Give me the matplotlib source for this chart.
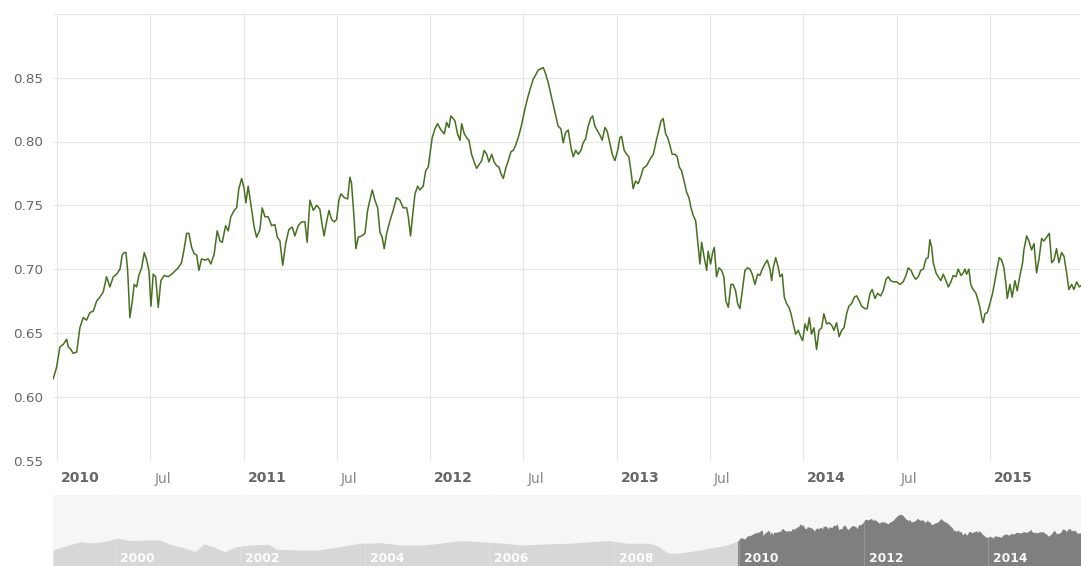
import numpy as np
import matplotlib
matplotlib.use("Agg")
import matplotlib.pyplot as plt
from matplotlib import transforms

# ------------------------------------------------------------
# data
# time as decimal years, values as exchange rate
# ------------------------------------------------------------
t_main = np.array([
    2009.980, 2009.998, 2010.016, 2010.034, 2010.052, 2010.061, 2010.075, 2010.087, 2010.106, 2010.123,
    2010.141, 2010.159, 2010.177, 2010.195, 2010.213, 2010.230, 2010.248, 2010.266, 2010.284, 2010.302,
    2010.320, 2010.338, 2010.350, 2010.361, 2010.370, 2010.379, 2010.391, 2010.404, 2010.414, 2010.427,
    2010.439, 2010.454, 2010.468, 2010.481, 2010.493, 2010.504, 2010.516, 2010.529, 2010.543, 2010.557,
    2010.575, 2010.596, 2010.615, 2010.636, 2010.650, 2010.668, 2010.682, 2010.695, 2010.707, 2010.722,
    2010.736, 2010.749, 2010.761, 2010.775, 2010.793, 2010.811, 2010.825, 2010.843, 2010.859, 2010.874,
    2010.886, 2010.904, 2010.918, 2010.932, 2010.950, 2010.963, 2010.975, 2010.990, 2011.002, 2011.013,
    2011.025, 2011.043, 2011.057,
    2011.070, 2011.088, 2011.100, 2011.115, 2011.132, 2011.151, 2011.168, 2011.181, 2011.195, 2011.210,
    2011.226, 2011.243, 2011.261, 2011.275, 2011.293, 2011.311, 2011.329, 2011.341, 2011.356, 2011.374,
    2011.392, 2011.409, 2011.422, 2011.432, 2011.445, 2011.458, 2011.472, 2011.486, 2011.499, 2011.511,
    2011.522, 2011.540, 2011.558, 2011.570, 2011.579, 2011.592, 2011.602, 2011.615, 2011.633, 2011.651,
    2011.665, 2011.677, 2011.690, 2011.704, 2011.719, 2011.731, 2011.743, 2011.754, 2011.767, 2011.785,
    2011.802, 2011.820, 2011.838, 2011.856, 2011.874, 2011.883, 2011.895, 2011.909, 2011.919, 2011.933,
    2011.945, 2011.963, 2011.976, 2011.990, 2011.999, 2012.011, 2012.026, 2012.040, 2012.058, 2012.076,
    2012.088, 2012.101, 2012.111, 2012.124,
    2012.133, 2012.147, 2012.160, 2012.169, 2012.183, 2012.196, 2012.208, 2012.222, 2012.236, 2012.249,
    2012.263, 2012.276, 2012.290, 2012.303, 2012.315, 2012.330, 2012.343, 2012.356, 2012.369, 2012.379,
    2012.392, 2012.405, 2012.419, 2012.433, 2012.445, 2012.458, 2012.472, 2012.487, 2012.499, 2012.512,
    2012.526, 2012.540, 2012.553, 2012.565, 2012.579, 2012.594, 2012.606, 2012.619, 2012.633, 2012.647,
    2012.660, 2012.673, 2012.686, 2012.701, 2012.713, 2012.726, 2012.740, 2012.755, 2012.767, 2012.780,
    2012.794, 2012.808, 2012.820, 2012.833, 2012.847, 2012.860, 2012.871, 2012.883, 2012.898, 2012.910,
    2012.922, 2012.937, 2012.949, 2012.964, 2012.976, 2012.990, 2013.005, 2013.017, 2013.026, 2013.040,
    2013.053, 2013.065, 2013.076, 2013.088, 2013.101, 2013.115, 2013.130, 2013.142, 2013.160, 2013.178,
    2013.196,
    2013.214, 2013.226, 2013.237, 2013.249, 2013.262, 2013.273, 2013.285, 2013.297, 2013.312, 2013.324,
    2013.335, 2013.348, 2013.362, 2013.375, 2013.387, 2013.398, 2013.410, 2013.423, 2013.434, 2013.446,
    2013.455, 2013.469, 2013.482, 2013.490, 2013.503, 2013.514, 2013.523, 2013.535, 2013.548, 2013.562,
    2013.574, 2013.585, 2013.598, 2013.612, 2013.624, 2013.637, 2013.648, 2013.660, 2013.673, 2013.687,
    2013.701, 2013.714, 2013.726, 2013.741, 2013.755, 2013.767, 2013.780, 2013.794, 2013.807, 2013.821,
    2013.830, 2013.839, 2013.852, 2013.866, 2013.875, 2013.887, 2013.898, 2013.910, 2013.923, 2013.934,
    2013.946, 2013.959, 2013.973, 2013.986, 2013.996, 2014.009, 2014.021, 2014.032, 2014.044, 2014.057,
    2014.071, 2014.084, 2014.098, 2014.110, 2014.125, 2014.137, 2014.152, 2014.164, 2014.178, 2014.192,
    2014.205, 2014.218, 2014.232, 2014.244, 2014.259, 2014.273,
    2014.286, 2014.300, 2014.312, 2014.330, 2014.342, 2014.357, 2014.369, 2014.384, 2014.398, 2014.414,
    2014.428, 2014.443, 2014.455, 2014.468, 2014.482, 2014.500, 2014.518, 2014.535, 2014.550, 2014.562,
    2014.577, 2014.589, 2014.602, 2014.616, 2014.629, 2014.643, 2014.657, 2014.669, 2014.678, 2014.688,
    2014.696, 2014.711, 2014.723, 2014.737, 2014.750, 2014.764, 2014.777, 2014.791, 2014.803, 2014.818,
    2014.830, 2014.845, 2014.857, 2014.866, 2014.875, 2014.887, 2014.897, 2014.910, 2014.925, 2014.937,
    2014.946, 2014.957, 2014.964, 2014.973, 2014.986, 2015.000, 2015.014, 2015.027, 2015.039, 2015.050,
    2015.063, 2015.075, 2015.086, 2015.093, 2015.107, 2015.119, 2015.134, 2015.146, 2015.161, 2015.175,
    2015.182, 2015.197, 2015.209, 2015.223, 2015.236, 2015.250, 2015.263, 2015.277, 2015.289, 2015.304,
    2015.318, 2015.331, 2015.343, 2015.357, 2015.370, 2015.384, 2015.397, 2015.411, 2015.423, 2015.438,
    2015.450, 2015.465, 2015.479, 2015.488,
])

v_main = np.array([
    0.614, 0.623, 0.639, 0.641, 0.645, 0.639, 0.637, 0.634, 0.635, 0.654,
    0.662, 0.660, 0.666, 0.667, 0.675, 0.678, 0.682, 0.694, 0.686, 0.694,
    0.696, 0.700, 0.711, 0.713, 0.713, 0.699, 0.662, 0.675, 0.688, 0.686,
    0.695, 0.701, 0.713, 0.707, 0.699, 0.671, 0.696, 0.694, 0.670, 0.691,
    0.695, 0.694, 0.696, 0.699, 0.701, 0.705, 0.716, 0.728, 0.728, 0.717,
    0.712, 0.711, 0.699, 0.708, 0.707, 0.708, 0.704, 0.712, 0.730, 0.722,
    0.721, 0.734, 0.730, 0.741, 0.746, 0.748, 0.763, 0.771, 0.764, 0.752,
    0.765, 0.747, 0.733,
    0.725, 0.731, 0.748, 0.741, 0.741, 0.734, 0.735, 0.725, 0.722, 0.703,
    0.720, 0.731, 0.733, 0.726, 0.734, 0.737, 0.737, 0.721, 0.754, 0.746,
    0.750, 0.747, 0.734, 0.726, 0.737, 0.746, 0.739, 0.737, 0.739, 0.754,
    0.759, 0.756, 0.755, 0.772, 0.767, 0.741, 0.716, 0.725, 0.726, 0.728,
    0.746, 0.754, 0.762, 0.754, 0.748, 0.729, 0.725, 0.716, 0.728, 0.738,
    0.746, 0.756, 0.754, 0.748, 0.748, 0.741, 0.726, 0.746, 0.759, 0.765,
    0.762, 0.765, 0.777, 0.780, 0.790, 0.803, 0.810, 0.814, 0.809, 0.806,
    0.815, 0.811, 0.820, 0.818,
    0.816, 0.806, 0.801, 0.814, 0.806, 0.803, 0.801, 0.790, 0.784, 0.779,
    0.782, 0.785, 0.793, 0.790, 0.784, 0.790, 0.784, 0.781, 0.780, 0.775,
    0.771, 0.779, 0.785, 0.792, 0.793, 0.797, 0.803, 0.811, 0.819, 0.828,
    0.836, 0.843, 0.849, 0.852, 0.856, 0.857, 0.858, 0.853, 0.846, 0.837,
    0.829, 0.820, 0.812, 0.810, 0.799, 0.807, 0.809, 0.795, 0.788, 0.793,
    0.790, 0.793, 0.799, 0.802, 0.812, 0.818, 0.820, 0.812, 0.808, 0.805,
    0.801, 0.811, 0.808, 0.798, 0.790, 0.785, 0.793, 0.803, 0.804, 0.793,
    0.790, 0.788, 0.777, 0.763, 0.769, 0.767, 0.773, 0.779, 0.781, 0.786,
    0.790,
    0.802, 0.809, 0.816, 0.818, 0.806, 0.803, 0.797, 0.790, 0.790, 0.788,
    0.780, 0.777, 0.768, 0.760, 0.756, 0.748, 0.742, 0.738, 0.722, 0.704,
    0.721, 0.709, 0.699, 0.714, 0.704, 0.713, 0.717, 0.694, 0.701, 0.699,
    0.694, 0.675, 0.670, 0.688, 0.688, 0.683, 0.673, 0.669, 0.683, 0.699,
    0.701, 0.700, 0.696, 0.688, 0.696, 0.695, 0.700, 0.704, 0.707, 0.700,
    0.691, 0.701, 0.709, 0.701, 0.694, 0.696, 0.678, 0.673, 0.670, 0.665,
    0.657, 0.649, 0.652, 0.647, 0.644, 0.657, 0.652, 0.662, 0.649, 0.654,
    0.637, 0.652, 0.654, 0.665, 0.657, 0.658, 0.656, 0.652, 0.658, 0.647,
    0.652, 0.654, 0.665, 0.671, 0.673, 0.678,
    0.679, 0.675, 0.671, 0.669, 0.669, 0.681, 0.684, 0.677, 0.681, 0.679,
    0.683, 0.692, 0.694, 0.691, 0.690, 0.690, 0.688, 0.690, 0.695, 0.701,
    0.699, 0.695, 0.692, 0.694, 0.699, 0.700, 0.708, 0.709, 0.723, 0.717,
    0.705, 0.697, 0.694, 0.691, 0.696, 0.691, 0.686, 0.690, 0.695, 0.694,
    0.700, 0.695, 0.697, 0.700, 0.696, 0.700, 0.688, 0.684, 0.681, 0.675,
    0.670, 0.661, 0.658, 0.665, 0.666, 0.673, 0.681, 0.691, 0.701, 0.709,
    0.707, 0.701, 0.688, 0.677, 0.688, 0.678, 0.691, 0.683, 0.695, 0.705,
    0.715, 0.726, 0.722, 0.715, 0.720, 0.697, 0.708, 0.724, 0.722, 0.725,
    0.728, 0.705, 0.707, 0.716, 0.705, 0.713, 0.710, 0.697, 0.684, 0.688,
    0.684, 0.690, 0.686, 0.687,
])

# longer history shown only in the navigator strip
t_hist = np.array([
    1999.000, 1999.160, 1999.449, 1999.593, 1999.818, 2000.042, 2000.251, 2000.476, 2000.700, 2000.909,
    2001.133, 2001.277, 2001.422, 2001.566, 2001.759, 2001.935, 2002.160, 2002.448, 2002.593, 2002.961,
    2003.250, 2003.603, 2003.908, 2004.261, 2004.565, 2004.918, 2005.207, 2005.512, 2005.864, 2006.233,
    2006.522, 2006.891, 2007.260, 2007.613, 2007.917, 2008.206, 2008.575, 2008.719, 2008.864, 2009.008,
    2009.216, 2009.521, 2009.810,
])
v_hist = np.array([
    0.532, 0.562, 0.608, 0.596, 0.608, 0.639, 0.617, 0.623, 0.623, 0.577,
    0.547, 0.516, 0.587, 0.562, 0.516, 0.562, 0.577, 0.584, 0.538, 0.532,
    0.532, 0.562, 0.593, 0.598, 0.577, 0.577, 0.593, 0.617, 0.608, 0.593,
    0.577, 0.587, 0.593, 0.608, 0.617, 0.593, 0.593, 0.562, 0.502, 0.502,
    0.516, 0.547, 0.577,
])

x_ticks = [2010, 2010.5, 2011, 2011.5, 2012, 2012.5, 2013, 2013.5, 2014, 2014.5, 2015]
x_labels = ['2010', 'Jul', '2011', 'Jul', '2012', 'Jul', '2013', 'Jul', '2014', 'Jul', '2015']
y_ticks = [0.55, 0.60, 0.65, 0.70, 0.75, 0.80, 0.85, 0.90]
y_labels = ['0.55', '0.60', '0.65', '0.70', '0.75', '0.80', '0.85', '']
nav_ticks = [2000, 2002, 2004, 2006, 2008, 2010, 2012, 2014]
nav_labels = ['2000', '2002', '2004', '2006', '2008', '2010', '2012', '2014']

# ------------------------------------------------------------
W, H = 1081, 566
LINE = '#46701f'
GRID = '#e6e6e6'

fig = plt.figure(figsize=(W / 100, H / 100), dpi=100)
fig.patch.set_facecolor('white')

# main panel
ax = fig.add_axes([53 / W, 1 - 460.5 / H, 1 - 53 / W, (460.5 - 13.9) / H])
ax.plot(t_main, v_main, color=LINE, lw=1.1, solid_joinstyle='round')
ax.set_xlim(2009.979, 2015.488)
ax.set_ylim(0.55, 0.90)
for s in ax.spines.values():
    s.set_visible(False)
ax.set_yticks(y_ticks, y_labels)
ax.set_xticks(x_ticks)
ax.set_xticklabels([])
ax.tick_params(axis='both', length=0)
ax.tick_params(axis='y', pad=7.2, labelsize=9.7, labelcolor='#666666')
ax.grid(True, color=GRID, lw=0.8)
ax.set_axisbelow(True)

lab_tr = transforms.offset_copy(ax.get_xaxis_transform(), fig=fig, x=4, y=-18, units='dots')
for xt, lab in zip(x_ticks, x_labels):
    is_year = lab != 'Jul'
    ax.text(xt, 0, lab, transform=lab_tr, ha='left', va='center', fontsize=10,
            fontweight='bold' if is_year else 'normal',
            color='#666666' if is_year else '#888888')

# navigator strip
nav = fig.add_axes([53 / W, 0, 1 - 53 / W, 71 / H])
nav.set_facecolor('#f6f6f6')
nav.set_xlim(1999.0, 2015.488)
nav.set_ylim(0.385, 1.035)
hist_t = np.append(t_hist, t_main[0])
hist_v = np.append(v_hist, v_main[0])
nav.fill_between(hist_t, hist_v, 0.385, color='#d7d7d7', lw=0)
nav.fill_between(t_main, v_main, 0.385, color='#7f7f7f', lw=0)
for yr in nav_ticks:
    nav.axvline(yr, color='#ffffff', alpha=0.18, lw=0.8)
for s in nav.spines.values():
    s.set_visible(False)
nav.set_xticks([])
nav.set_yticks([])

nav_tr = transforms.offset_copy(nav.get_xaxis_transform(), fig=fig, x=5, y=0, units='dots')
for yr, lab in zip(nav_ticks, nav_labels):
    nav.text(yr, 0.0986, lab, transform=nav_tr, ha='left', va='center',
             fontsize=8.8, fontweight='bold', color='#ffffff', alpha=0.95)

fig.savefig('out.png', dpi=100, facecolor=fig.get_facecolor())
